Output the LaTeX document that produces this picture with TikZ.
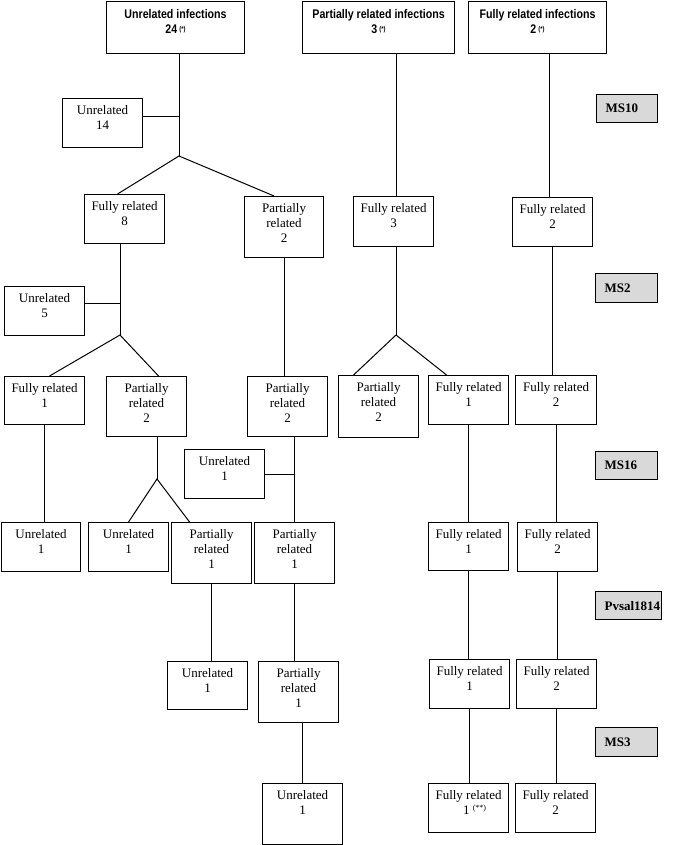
\documentclass[tikz,border=0pt]{standalone}
\usepackage{fontspec}
\setmainfont{Liberation Serif}
\newfontfamily\hdfont[FakeStretch=0.85]{Liberation Sans}
\definecolor{labgray}{HTML}{D9D9D9}
\tikzset{
 bx/.style={draw, line width=1.1pt, inner sep=0pt, anchor=north west, font=\fontsize{13}{15}\selectfont},
 hd/.style={draw, line width=1.1pt, inner sep=0pt, anchor=north west, font=\hdfont\bfseries\fontsize{12.5}{15}\selectfont},
 lab/.style={draw, fill=labgray, line width=1.1pt, inner sep=0pt, anchor=north west, font=\bfseries\fontsize{13}{15}\selectfont},
 ln/.style={line width=1pt}
}
% width, height, text
\newcommand\bxt[3]{\parbox[c][#2pt][t]{#1pt}{\centering\rule{0pt}{16pt}#3\par}}
\newcommand\hdt[3]{\parbox[c][#2pt][t]{#1pt}{\centering\rule{0pt}{17pt}#3\par}}
\newcommand\labt[3]{\parbox[c][#2pt][c]{#1pt}{\hspace*{9pt}#3}}
\newcommand\astnote[1]{\,\raisebox{2.5pt}{\fontsize{7}{7}\selectfont #1}}
\newcommand\astsup[1]{\ \raisebox{4pt}{\fontsize{8}{8}\selectfont #1}}
\begin{document}
\begin{tikzpicture}[x=1pt,y=-1pt]
\useasboundingbox (0,0) rectangle (675,845);
% headers
\node[hd] (H1) at (106,1) {\hdt{138}{52}{Unrelated infections\\24\astnote{(*)}}};
\node[hd] (H2) at (302,1) {\hdt{152}{52}{Partially related infections\\3\astnote{(*)}}};
\node[hd] (H3) at (468,1) {\hdt{138}{52}{Fully related infections\\2\astnote{(*)}}};
% marker labels
\node[lab] (L1) at (596,94) {\labt{61}{28}{MS10}};
\node[lab] (L2) at (595,273) {\labt{62}{29}{MS2}};
\node[lab] (L3) at (595,451) {\labt{62}{28}{MS16}};
\node[lab] (L4) at (595,591) {\labt{66}{28}{Pvsal1814}};
\node[lab] (L5) at (595,727) {\labt{62}{29}{MS3}};
% level 1
\node[bx] (u14) at (62,98) {\bxt{80}{49}{Unrelated\\14}};
\node[bx] (f8) at (84,194) {\bxt{80}{49}{Fully related\\8}};
\node[bx] (p2a) at (244,196) {\bxt{79}{61}{Partially\\related\\2}};
\node[bx] (f3) at (353,196) {\bxt{80}{50}{Fully related\\3}};
\node[bx] (f2a) at (512,197) {\bxt{80}{49}{Fully related\\2}};
% level 2
\node[bx] (u5) at (4,286) {\bxt{80}{49}{Unrelated\\5}};
\node[bx] (f1a) at (4,376) {\bxt{80}{48}{Fully related\\1}};
\node[bx] (p2b) at (106,376) {\bxt{80}{60}{Partially\\related\\2}};
\node[bx] (p2c) at (247,376) {\bxt{80}{60}{Partially\\related\\2}};
\node[bx] (p2d) at (338,375) {\bxt{80}{62}{Partially\\related\\2}};
\node[bx] (f1b) at (428,375) {\bxt{80}{49}{Fully related\\1}};
\node[bx] (f2b) at (515,375) {\bxt{81}{49}{Fully related\\2}};
% level 3
\node[bx] (u1s) at (184,449) {\bxt{80}{49}{Unrelated\\1}};
\node[bx] (u1a) at (1,522) {\bxt{79}{49}{Unrelated\\1}};
\node[bx] (u1b) at (88,522) {\bxt{80}{49}{Unrelated\\1}};
\node[bx] (p1a) at (171,522) {\bxt{80}{61}{Partially\\related\\1}};
\node[bx] (p1b) at (254,522) {\bxt{80}{61}{Partially\\related\\1}};
\node[bx] (f1c) at (428,522) {\bxt{80}{48}{Fully related\\1}};
\node[bx] (f2c) at (517,522) {\bxt{80}{49}{Fully related\\2}};
% level 4
\node[bx] (u1c) at (167,661) {\bxt{80}{48}{Unrelated\\1}};
\node[bx] (p1c) at (258,661) {\bxt{80}{61}{Partially\\related\\1}};
\node[bx] (f1d) at (429,659) {\bxt{80}{49}{Fully related\\1}};
\node[bx] (f2d) at (516,659) {\bxt{80}{49}{Fully related\\2}};
% level 5
\node[bx] (u1d) at (262,783) {\bxt{80}{61}{Unrelated\\1}};
\node[bx] (f1e) at (428,783) {\bxt{80}{49}{Fully related\\\hspace*{12pt}1\astsup{(**)}}};
\node[bx] (f2e) at (515,783) {\bxt{80}{49}{Fully related\\2}};
% branch points
\coordinate (bA) at (179,156);
\coordinate (bB) at (120,335);
\coordinate (bC) at (396,335);
\coordinate (bD) at (157,479);
% connectors
\draw[ln] (H1.south -| bA) -- (bA);
\draw[ln] ([yshift=7]u14.east) -- ([yshift=7]u14.east -| bA);
\draw[ln] ([xshift=-7]f8.north) -- (bA) -- ([xshift=-10]p2a.north);
\draw[ln] (f8.south -| bB) -- (bB);
\draw[ln] ([yshift=8]u5.east) -- ([yshift=8]u5.east -| bB);
\draw[ln] ([xshift=5]f1a.north) -- (bB) -- ([xshift=12]p2b.north);
\draw[ln] (p2a.south) -- (p2a.south |- p2c.north);
\draw[ln] ([xshift=3]f3.north) -- ([xshift=3]f3.north |- H2.south);
\draw[ln] ([xshift=-3]f2a.north) -- ([xshift=-3]f2a.north |- H3.south);
\draw[ln] (f3.south -| bC) -- (bC);
\draw[ln] ([xshift=-25]p2d.north) -- (bC) -- ([xshift=-22]f1b.north);
\draw[ln] (f2a.south) -- (f2a.south |- f2b.north);
\draw[ln] (f1a.south) -- (f1a.south |- u1a.north);
\draw[ln] (p2b.south -| bD) -- (bD);
\draw[ln] (u1b.north) -- (bD) -- ([xshift=-22]p1a.north);
\draw[ln] (p1b.north) -- (p1b.north |- p2c.south);
\draw[ln] (u1s.east) -- (u1s.east -| p1b.north);
\draw[ln] (f1b.south) -- (f1b.south |- f1c.north);
\draw[ln] (f2b.south) -- (f2b.south |- f2c.north);
\draw[ln] ([xshift=4]u1c.north |- p1a.south) -- ([xshift=4]u1c.north);
\draw[ln] (p1b.south) -- (p1b.south |- p1c.north);
\draw[ln] (u1d.north) -- (u1d.north |- p1c.south);
\draw[ln] (f1c.south) -- (f1c.south |- f1d.north);
\draw[ln] (f2c.south) -- (f2c.south |- f2d.north);
\draw[ln] (f1d.south) -- (f1d.south |- f1e.north);
\draw[ln] (f2d.south) -- (f2d.south |- f2e.north);
\end{tikzpicture}
\end{document}
